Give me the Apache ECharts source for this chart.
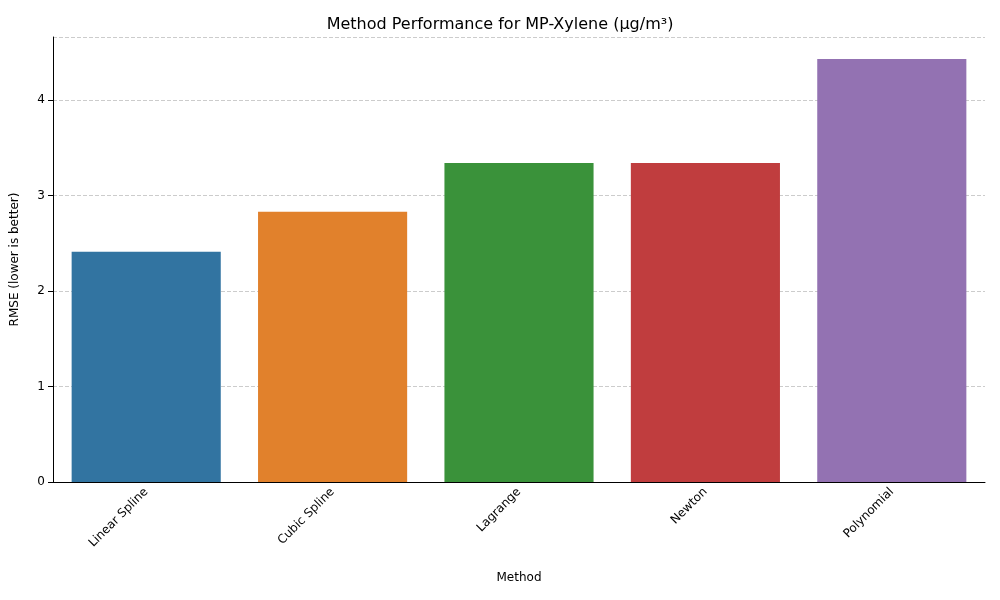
<!DOCTYPE html>
<html>
<head>
<meta charset="utf-8">
<script src="https://cdn.jsdelivr.net/npm/echarts@6/dist/echarts.min.js"></script>
<style>html,body{margin:0;padding:0;background:#fff}#chart{width:1000px;height:600px}</style>
</head>
<body>
<div id="chart"></div>
<script>
// 数据
var methods = ['Linear Spline', 'Cubic Spline', 'Lagrange', 'Newton', 'Polynomial'];
var rmse = [2.41, 2.83, 3.34, 3.34, 4.43];
var colors = ['#3274a1', '#e1812c', '#3a923a', '#c03d3e', '#9372b2'];

var myChart = echarts.init(document.getElementById('chart'));

var option = {
    textStyle: { fontFamily: 'DejaVu Sans' },
    title: {
        text: 'Method Performance for MP-Xylene (µg/m³)',
        left: 'center', top: 12,
        textStyle: { fontSize: 16, fontWeight: 'normal', color: '#000', fontFamily: 'DejaVu Sans' }
    },
    grid: { left: 53, right: 15, top: 37, bottom: 118 },
    xAxis: {
        type: 'category',
        data: methods,
        name: 'Method', nameLocation: 'middle', nameGap: 90,
        nameTextStyle: { color: '#000', fontSize: 12 },
        axisLine: { lineStyle: { color: '#000' } },
        axisTick: { alignWithLabel: true, lineStyle: { color: '#000' } },
        axisLabel: { rotate: 45, color: '#000', fontSize: 12, margin: 8 },
        splitLine: { show: false }
    },
    yAxis: {
        type: 'value',
        min: 0, max: 4.66, interval: 1,
        name: 'RMSE (lower is better)', nameLocation: 'middle', nameGap: 32,
        nameTextStyle: { color: '#000', fontSize: 12 },
        axisLine: { show: true, lineStyle: { color: '#000' } },
        axisTick: { show: true, lineStyle: { color: '#000' } },
        axisLabel: { color: '#000', fontSize: 12, showMaxLabel: false },
        splitLine: { lineStyle: { color: '#cccccc', type: 'dashed' } }
    },
    series: [{
        type: 'bar',
        barWidth: '80%',
        data: rmse.map(function (v, i) { return { value: v, itemStyle: { color: colors[i] } }; })
    }]
};

myChart.setOption(option);
</script>
</body>
</html>
